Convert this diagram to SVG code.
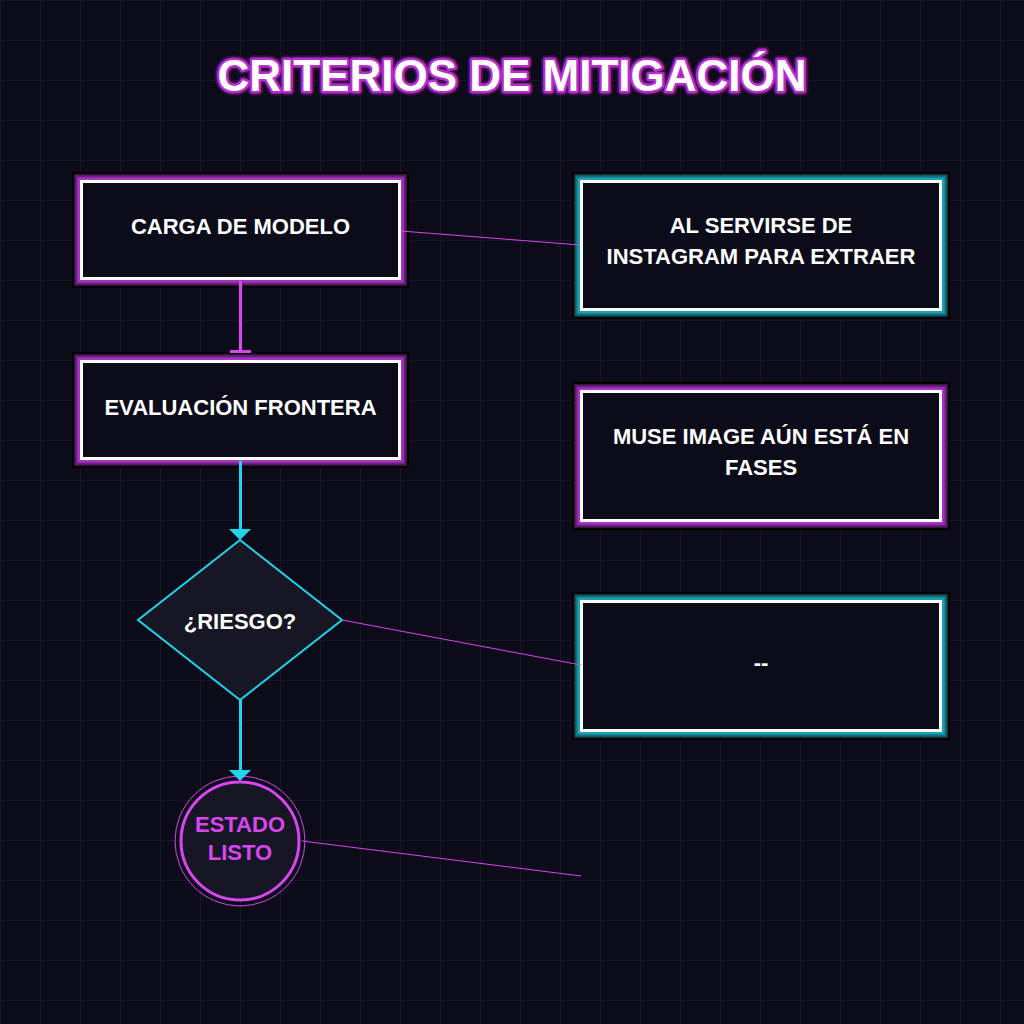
<svg xmlns="http://www.w3.org/2000/svg" width="1024" height="1024" viewBox="0 0 1024 1024">
<defs>
<pattern id="grid" width="40" height="40" patternUnits="userSpaceOnUse">
<path d="M40 0H0V40" fill="none" stroke="#171728" stroke-width="2"/>
</pattern>
<style>
.bg{fill:#0b0b1a}
.l1{fill:none;stroke:#000;stroke-width:19}
.l2p{fill:none;stroke:#3a1248;stroke-width:15}
.l3p{fill:none;stroke:#6b2282;stroke-width:12}
.l4p{fill:none;stroke:#a634c0;stroke-width:8}
.l2t{fill:none;stroke:#0d3840;stroke-width:15}
.l3t{fill:none;stroke:#12707c;stroke-width:12}
.l4t{fill:none;stroke:#1aa0b2;stroke-width:8}
.in{fill:#0b0b1a;stroke:#fff;stroke-width:3}
.t{font-family:"Liberation Sans",Arial,sans-serif;font-weight:bold;font-size:22px;fill:#fff;text-anchor:middle}
.tm{font-family:"Liberation Sans",Arial,sans-serif;font-weight:bold;font-size:22px;fill:#d946ef;text-anchor:middle}
.thin{fill:none;stroke:#d946ef;stroke-width:1}
</style>
</defs>
<rect class="bg" x="0" y="0" width="1024" height="1024"/>
<rect x="0" y="0" width="1024" height="1024" fill="url(#grid)"/>

<g id="title">
<text x="512" y="91" text-anchor="middle" font-family="Liberation Sans,Arial,sans-serif" font-weight="bold" font-size="44" fill="none" stroke="#3a0f48" stroke-width="9" stroke-linejoin="round">CRITERIOS DE MITIGACIÓN</text>
<text x="512" y="91" text-anchor="middle" font-family="Liberation Sans,Arial,sans-serif" font-weight="bold" font-size="44" fill="#fff" stroke="#b62ccc" stroke-width="5" stroke-linejoin="round" paint-order="stroke">CRITERIOS DE MITIGACIÓN</text>
</g>

<g id="node-carga">
<rect class="l1" x="81.5" y="181.5" width="318" height="97"/>
<rect class="l2p" x="81.5" y="181.5" width="318" height="97"/>
<rect class="l3p" x="81.5" y="181.5" width="318" height="97"/>
<rect class="l4p" x="81.5" y="181.5" width="318" height="97"/>
<rect class="in" x="81.5" y="181.5" width="318" height="97"/>
<text class="t" x="240.5" y="234">CARGA DE MODELO</text>
</g>

<g id="node-evaluacion">
<rect class="l1" x="81.5" y="361.5" width="318" height="97"/>
<rect class="l2p" x="81.5" y="361.5" width="318" height="97"/>
<rect class="l3p" x="81.5" y="361.5" width="318" height="97"/>
<rect class="l4p" x="81.5" y="361.5" width="318" height="97"/>
<rect class="in" x="81.5" y="361.5" width="318" height="97"/>
<text class="t" x="240.5" y="415">EVALUACIÓN FRONTERA</text>
</g>

<g id="node-instagram">
<rect class="l1" x="581.5" y="181.5" width="359" height="128"/>
<rect class="l2t" x="581.5" y="181.5" width="359" height="128"/>
<rect class="l3t" x="581.5" y="181.5" width="359" height="128"/>
<rect class="l4t" x="581.5" y="181.5" width="359" height="128"/>
<rect class="in" x="581.5" y="181.5" width="359" height="128"/>
<text class="t" x="761" y="233">AL SERVIRSE DE</text>
<text class="t" x="761" y="264">INSTAGRAM PARA EXTRAER</text>
</g>

<g id="node-muse">
<rect class="l1" x="581.5" y="391.5" width="359" height="129"/>
<rect class="l2p" x="581.5" y="391.5" width="359" height="129"/>
<rect class="l3p" x="581.5" y="391.5" width="359" height="129"/>
<rect class="l4p" x="581.5" y="391.5" width="359" height="129"/>
<rect class="in" x="581.5" y="391.5" width="359" height="129"/>
<text class="t" x="761" y="444">MUSE IMAGE AÚN ESTÁ EN</text>
<text class="t" x="761" y="475">FASES</text>
</g>

<g id="node-dash">
<rect class="l1" x="581.5" y="601.5" width="359" height="129"/>
<rect class="l2t" x="581.5" y="601.5" width="359" height="129"/>
<rect class="l3t" x="581.5" y="601.5" width="359" height="129"/>
<rect class="l4t" x="581.5" y="601.5" width="359" height="129"/>
<rect class="in" x="581.5" y="601.5" width="359" height="129"/>
<text class="t" x="761" y="670">--</text>
</g>

<g id="node-riesgo">
<polygon points="240,540 342,620 240,700 138,620" fill="#161624" stroke="#22d3ee" stroke-width="2"/>
<text class="t" x="240" y="629">¿RIESGO?</text>
</g>

<g id="node-estado">
<circle cx="240" cy="841" r="65" fill="none" stroke="#d946ef" stroke-width="1"/>
<circle cx="240" cy="841" r="59" fill="#161624" stroke="#d946ef" stroke-width="3"/>
<text class="tm" x="240" y="832">ESTADO</text>
<text class="tm" x="240" y="860">LISTO</text>
</g>

<g id="connectors">
<line x1="240.5" y1="281" x2="240.5" y2="351" stroke="#d946ef" stroke-width="3"/>
<line x1="230" y1="351.5" x2="251" y2="351.5" stroke="#d946ef" stroke-width="3"/>
<line x1="240.5" y1="461" x2="240.5" y2="530" stroke="#22d3ee" stroke-width="3"/>
<path d="M229 529H251L240 540Z" fill="#22d3ee"/>
<line x1="240.5" y1="700" x2="240.5" y2="771" stroke="#22d3ee" stroke-width="3"/>
<path d="M229 770H251L240 781Z" fill="#22d3ee"/>
<line class="thin" x1="401" y1="231" x2="580" y2="245"/>
<line class="thin" x1="342" y1="620" x2="581" y2="665"/>
<line class="thin" x1="302" y1="841" x2="581" y2="876"/>
</g>
</svg>
